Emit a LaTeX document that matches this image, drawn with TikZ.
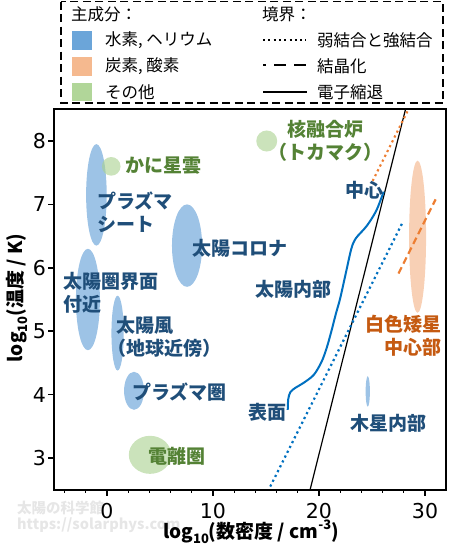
\documentclass[tikz,border=0pt]{standalone}
\usepackage{fontspec}
\setmainfont{Noto Sans CJK JP}
\newfontfamily\tickfont{DejaVu Sans}
\definecolor{cblue}{HTML}{5B9BD5}
\definecolor{corange}{HTML}{F4B183}
\definecolor{cgreen}{HTML}{A9D18E}
\definecolor{tblue}{HTML}{1F4E79}
\definecolor{tgreen}{HTML}{548235}
\definecolor{torange}{HTML}{C55A11}
\definecolor{lblue}{HTML}{0070C0}
\definecolor{lorange}{HTML}{ED7D31}
\definecolor{wmgray}{HTML}{E6E6E6}
\begin{document}
\begin{tikzpicture}[x=1pt,y=-1pt,
  lab/.style={font=\fontsize{19}{23}\selectfont\bfseries, inner sep=0pt},
  bl/.style={lab, text=tblue},
  gl/.style={lab, text=tgreen},
  ol/.style={lab, text=torange},
  leg/.style={font=\fontsize{16.5}{20}\selectfont, inner sep=0pt, anchor=west},
  ticklab/.style={font=\tickfont\fontsize{20.5}{24}\selectfont, inner sep=0pt},
  axlab/.style={font=\fontsize{19}{23}\selectfont\bfseries, inner sep=0pt},
  blob/.style={fill opacity=0.6},
  dotline/.style={line width=2.2pt, dash pattern=on 2.2pt off 3.2pt},
  dashline/.style={line width=2.2pt, dash pattern=on 7pt off 4pt}]
\useasboundingbox (0,0) rectangle (450,546);

% watermark
\node[font=\fontsize{14.5}{17}\selectfont\bfseries, text=wmgray, inner sep=0pt, anchor=west] (wm1) at (17,508) {太陽の科学館};
\node[font=\fontsize{14.5}{17}\selectfont\bfseries, text=wmgray, inner sep=0pt, anchor=west] (wm2) at (17,525) {https://solarphys.com};

% legend
\draw[line width=1.8pt, dash pattern=on 8pt off 4.5pt] (61,1.5) rectangle (443,103);
\node[leg] (h1) at (71,14) {主成分：};
\fill[cblue, fill opacity=0.9] (72,31) rectangle (92,49.5);
\fill[corange, fill opacity=0.9] (72,57) rectangle (92,76);
\fill[cgreen, fill opacity=0.9] (72,83) rectangle (92,101);
\node[leg] (l1) at (105,40) {水素, ヘリウム};
\node[leg] (l2) at (105,66) {炭素, 酸素};
\node[leg] (l3) at (105,92) {その他};
\node[leg] (h2) at (262,14) {境界：};
\draw[line width=2pt, dash pattern=on 2pt off 3.3pt] (263,40) -- (306,40);
\draw[line width=2pt, dash pattern=on 12pt off 8pt, dash phase=9pt] (263,65) -- (306,65);
\draw[line width=1.5pt] (263,92) -- (307,92);
\node[leg] (b1) at (317,40) {弱結合と強結合};
\node[leg] (b2) at (317,66) {結晶化};
\node[leg] (b3) at (317,92) {電子縮退};

% data area
\begin{scope}[shift={(107pt,-648.2pt)}, x=10.6pt, y=63.4pt]
  % blue regions
  \fill[cblue, blob] (-1,7.15) ellipse [x radius=0.97, y radius=0.8];
  \fill[cblue, blob] (-1.8,5.5) ellipse [x radius=1.13, y radius=0.8];
  \fill[cblue, blob] (1.0,4.97) ellipse [x radius=0.58, y radius=0.59];
  \fill[cblue, blob] (2.55,4.06) ellipse [x radius=0.94, y radius=0.3];
  \fill[cblue, blob] (7.55,6.35) ellipse [x radius=1.42, y radius=0.65];
  \fill[cblue, blob] (24.6,4.05) ellipse [x radius=0.2, y radius=0.24];
  % green regions
  \fill[cgreen, blob] (0.4,7.6) ellipse [x radius=0.88, y radius=0.147];
  \fill[cgreen, blob] (15.07,8.0) ellipse [x radius=0.99, y radius=0.166];
  \fill[cgreen, blob] (4.06,3.05) ellipse [x radius=2.0, y radius=0.3];
  % orange region
  \fill[corange, blob] (29.3,6.49) ellipse [x radius=0.8, y radius=1.2];

  % boundaries
  \draw[black, line width=1.2pt] (19.16,2.5) -- (28.16,8.5);
  \draw[lblue, dotline] (15.4,2.55) -- (27.95,6.737);
  \draw[lorange, dotline] (25.06,7.37) -- (28.44,8.5);
  \draw[lorange, dashline] (27.5,5.91) -- (31.0,7.08);
  % solar interior
  \draw[lblue, line width=2pt, line join=round] plot[smooth, tension=0.5] coordinates {
    (17.05,3.76) (17.1,3.93) (17.3,4.04) (17.8,4.11) (18.5,4.18) (19.5,4.31)
    (20.25,4.52) (20.75,4.75) (21.2,5.02) (21.6,5.28) (22.0,5.52) (22.6,5.97)
    (23.05,6.3) (23.45,6.46) (24.5,6.66) (25.4,6.9) (26.1,7.2)};

  % frame and ticks
  \draw[line width=2pt] (-5,2.5) rectangle (32,8.5);
  \foreach \x in {0,10,20,30} {
    \draw[line width=1.5pt] (\x,2.5) -- ++(0pt,-6pt);
    \node[ticklab] (xt\x) at (\x,2.16) {\x};
  }
  \foreach \x in {-4,-2,2,4,6,8,12,14,16,18,22,24,26,28} {
    \draw[line width=1.2pt] (\x,2.5) -- ++(0pt,-3.5pt);
  }
  \foreach \y in {3,4,5,6,7,8} {
    \draw[line width=1.5pt] (-5,\y) -- ++(-6pt,0pt);
    \node[ticklab, anchor=east] (yt\y) at (-5.75,\y) {\y};
  }
\end{scope}

% region labels
\node[gl, anchor=west] (crab) at (125,166) {かに星雲};
\node[bl, anchor=west, align=left] (psheet) at (97,212.5) {プラズマ\\シート};
\node[bl, anchor=west] (corona) at (192,248) {太陽コロナ};
\node[bl, anchor=west, align=left] (helio) at (63,292.5) {太陽圏界面\\付近};
\node[bl, anchor=west, align=left] (wind) at (116,336.5) {太陽風\\\hspace*{-0.45em}（地球近傍）};
\node[bl, anchor=west] (psphere) at (132,392) {プラズマ圏};
\node[gl, anchor=west] (iono) at (148,456) {電離圏};
\node[gl, align=center] (fusion) at (325,141) {核融合炉\\（トカマク）};
\node[bl, anchor=west] (center) at (345,190) {中心};
\node[bl, anchor=west] (sunint) at (255,289) {太陽内部};
\node[ol, anchor=east, align=right] (wd) at (442,336) {白色矮星\\中心部};
\node[bl, anchor=west] (surface) at (248,412) {表面};
\node[bl, anchor=west] (jup) at (350,423) {木星内部};

% axis labels
\node[axlab] (xlabel) at (251,532) {log\raisebox{-0.3em}{\fontsize{13}{13}\selectfont 10}(数密度 / cm\raisebox{0.45em}{\fontsize{13}{13}\selectfont -3})};
\node[axlab, rotate=90] (ylabel) at (17,298) {log\raisebox{-0.3em}{\fontsize{13}{13}\selectfont 10}(温度 / K)};
\end{tikzpicture}
\end{document}
